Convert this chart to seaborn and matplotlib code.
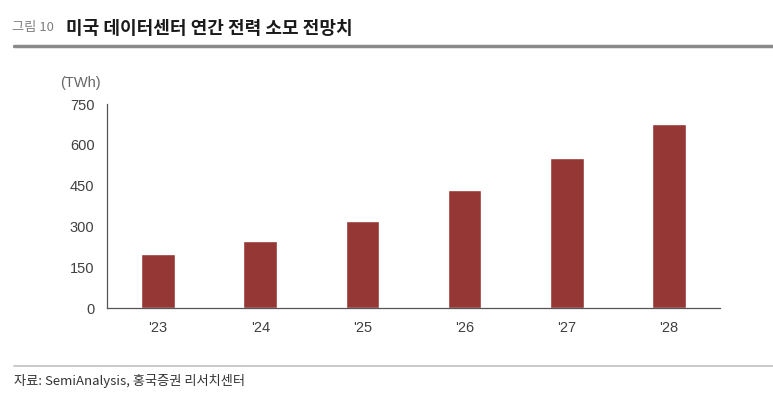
import matplotlib
matplotlib.use("Agg")
import matplotlib.pyplot as plt
import seaborn as sns
import pandas as pd
from matplotlib.lines import Line2D

years = ["'23", "'24", "'25", "'26", "'27", "'28"]
power_twh = [199, 245, 321, 434, 552, 675]
y_ticks = [0, 150, 300, 450, 600, 750]

title_prefix = "그림 10"
title_main = "미국 데이터센터 연간 전력 소모 전망치"
unit_label = "(TWh)"
source_text = "자료: SemiAnalysis, 홍국증권 리서치센터"

sns.set_theme(style="white")
plt.rcParams['font.family'] = ['Liberation Sans', 'Noto Sans CJK KR', 'DejaVu Sans']

df = pd.DataFrame({"year": years, "power": power_twh})

fig = plt.figure(figsize=(7.73, 3.98), dpi=100)
ax = fig.add_axes([107/773, 1-308/398, (720-107)/773, (308-104)/398])

sns.barplot(data=df, x="year", y="power", color="#953735", saturation=1,
            width=0.33, ax=ax)

ax.set_xlim(-0.5, 5.5)
ax.set_ylim(0, 750)
ax.set_yticks(y_ticks)
ax.set_yticklabels([str(v) for v in y_ticks], fontsize=10.5, color="#404040")
ax.set_xticks(range(len(years)))
ax.set_xticklabels(years, fontsize=10.5, color="#404040")
ax.set_xticks([i - 0.5 for i in range(len(years) + 1)], minor=True)
ax.tick_params(axis="x", which="major", length=0, pad=9)
ax.tick_params(axis="x", which="minor", length=4, width=0.8, color="#555555", direction="out")
ax.tick_params(axis="y", which="major", length=4, width=0.8, color="#555555", direction="out", pad=5)
ax.set_xlabel("")
ax.set_ylabel("")
for s in ["top", "right"]:
    ax.spines[s].set_visible(False)
for s in ["left", "bottom"]:
    ax.spines[s].set_color("#555555")
    ax.spines[s].set_linewidth(0.9)

fig.text(60/773, 1-83/398, unit_label, fontsize=10.5, color="#666666", va="center",
         family=['Liberation Sans', 'DejaVu Sans'])

fig.text(12/773, 1-28/398, title_prefix, fontsize=9.5, color="#808080", va="center",
         family=['Noto Sans CJK KR', 'DejaVu Sans'])
fig.text(66/773, 1-28/398, title_main, fontsize=13, color="#1a1a1a", va="center",
         fontweight="bold", family=['Noto Sans CJK KR', 'DejaVu Sans'])

fig.add_artist(Line2D([14/773, 1.0], [1-46/398, 1-46/398], transform=fig.transFigure,
                      color="#8a8a8a", linewidth=2.5))
fig.add_artist(Line2D([14/773, 1.0], [1-366/398, 1-366/398], transform=fig.transFigure,
                      color="#c0c0c0", linewidth=1.2))
fig.text(14/773, 1-381/398, source_text, fontsize=9.5, color="#333333", va="center",
         family=['Noto Sans CJK KR', 'DejaVu Sans'])

fig.savefig("out.png", dpi=100, facecolor="white")
